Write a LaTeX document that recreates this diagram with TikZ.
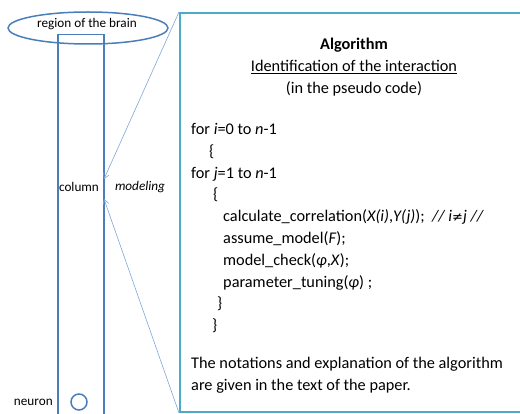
\documentclass[tikz,border=0pt]{standalone}
\usepackage{fontspec}
\setmainfont{Carlito}
\newfontfamily\symbolfont{DejaVu Sans}
\usepackage{tikz}
\usetikzlibrary{
  positioning,
  arrows.meta,
  shapes.geometric
}
\definecolor{officeblue}{HTML}{4A7EBB}
\definecolor{aquaframe}{HTML}{4BACC6}
\definecolor{linkblue}{HTML}{7FA6DA}

\begin{document}
\begin{tikzpicture}[
  x=1pt, y=-1pt,
  font=\fontsize{13.2}{16}\selectfont,
  region/.style={
    ellipse,
    draw=officeblue,
    line width=1.5pt,
    minimum width=160pt,
    minimum height=32pt,
    inner sep=0pt
  },
  columnbox/.style={
    rectangle,
    draw=officeblue,
    line width=1.5pt,
    minimum width=46pt,
    minimum height=400pt,
    anchor=north
  },
  cell/.style={
    circle,
    draw=officeblue,
    line width=1.5pt,
    minimum size=16pt,
    inner sep=0pt
  },
  algobox/.style={
    rectangle,
    draw=aquaframe,
    line width=2pt,
    minimum width=360pt,
    minimum height=399pt,
    anchor=north west
  },
  codetext/.style={
    font=\fontsize{16.3}{21.8}\selectfont,
    inner sep=0pt
  },
  link/.style={
    -{Straight Barb[length=5pt,width=6pt]},
    line width=0.6pt,
    draw=linkblue
  }
]
\useasboundingbox (0,0) rectangle (520,414);
\clip (0,0) rectangle (520,414);

% Brain side
\node[region] (brain) at (88,28) {};
\node (brainlabel) at (87,24) {region of the brain};
\node[columnbox] (column) at (81,34) {};
\node (collabel) at (79,187) {column};
\node[font=\fontsize{13.2}{16}\selectfont\itshape] (modeling) at (140,187) {modeling};
\node[cell] (neuron) at (79,402) {};
\node[left=14pt of neuron] (neuronlabel) {neuron};

% Algorithm box
\node[algobox] (algo) at (179,12) {};
\node[codetext, align=center, anchor=north] (title) at (354,38)
  {\textbf{Algorithm}\\\underline{Identification of the interaction}\\(in the pseudo code)};
\node[codetext, align=left, anchor=north west] (code) at (191,123)
  {for \textit{i}=0 to \textit{n}-1\\
   \hspace*{18pt}\{\\
   for \textit{j}=1 to \textit{n}-1\\
   \hspace*{22pt}\{\\
   \hspace*{32pt}calculate\_correlation(\textit{X(i)},\textit{Y(j)});\ \ \textit{// i}{\symbolfont\fontsize{13}{21.8}\selectfont ≠}\textit{j //}\\
   \hspace*{32pt}assume\_model(\textit{F});\\
   \hspace*{32pt}model\_check(\textit{φ},\textit{X});\\
   \hspace*{32pt}parameter\_tuning(\textit{φ})\ ;\\
   \hspace*{26pt}\}\\
   \hspace*{21pt}\}};
\node[codetext, align=left, anchor=north west] (note) at (191,357)
  {The notations and explanation of the algorithm\\are given in the text of the paper.};

% Modeling links
\coordinate (hitA) at (104,179);
\coordinate (hitB) at (104,199);
\draw[link] (algo.north west) -- (hitA);
\draw[link] (algo.south west) -- (hitB);

\end{tikzpicture}
\end{document}
